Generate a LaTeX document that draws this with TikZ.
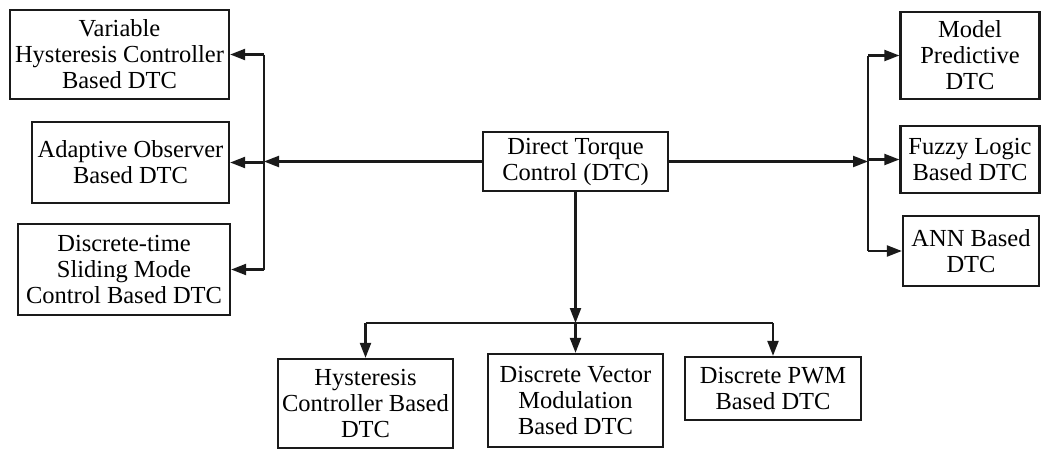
\documentclass[tikz,border=0pt]{standalone}
\usepackage{fontspec}
\setmainfont{Liberation Serif}
\usetikzlibrary{arrows.meta,positioning,calc}
\definecolor{ink}{HTML}{1A1A1A}
\tikzset{
  block/.style={rectangle,draw=ink,line width=2.3pt,fill=white,align=center,inner sep=1pt,font=\fontsize{24.5}{26}\selectfont},
  arrow/.style={-{Triangle[length=15pt,width=11pt]},line width=2.2pt,ink},
  bus/.style={line width=2.2pt,ink}
}
\begin{document}
\begin{tikzpicture}[x=1pt,y=-1pt]
    \useasboundingbox (0,0) rectangle (1046,450);
    % centre
    \node[block,minimum width=185pt,minimum height=59pt] (dtc) at (575.5,161.5) {Direct Torque\\Control (DTC)};
    % left group
    \node[block,minimum width=219pt,minimum height=89pt] (var) at (119.5,54.5) {Variable\\Hysteresis Controller\\Based DTC};
    \node[block,minimum width=197pt,minimum height=81pt] (adapt) at (130.5,162.5) {Adaptive Observer\\Based DTC};
    \node[block,minimum width=212pt,minimum height=91pt] (slide) at (124,269.5) {Discrete-time\\Sliding Mode\\Control Based DTC};
    % right group
    \node[block,minimum width=139pt,minimum height=87pt] (mpc) at (970,55.5) {Model\\Predictive\\DTC};
    \node[block,minimum width=139pt,minimum height=67pt] (fuzzy) at (970,159.5) {Fuzzy Logic\\Based DTC};
    \node[block,minimum width=136pt,minimum height=70pt] (ann) at (971,251) {ANN Based\\DTC};
    % bottom group
    \node[block,minimum width=175pt,minimum height=89pt] (hyst) at (365.5,403.5) {Hysteresis\\Controller Based\\DTC};
    \node[block,minimum width=175pt,minimum height=93pt] (dvm) at (575.5,400.5) {Discrete Vector\\Modulation\\Based DTC};
    \node[block,minimum width=176pt,minimum height=63pt] (pwm) at (773,388.5) {Discrete PWM\\Based DTC};

    \coordinate (lbus) at (264,161.5);
    \coordinate (rbus) at (868,161.5);
    \coordinate (bbus) at (575.5,323);

    % left branch
    \draw[arrow] (dtc.west) -- (lbus);
    \draw[bus] (lbus |- var.east) -- (lbus |- slide.east);
    \draw[arrow] (lbus |- var.east) -- (var.east);
    \draw[arrow] (lbus |- adapt.east) -- (adapt.east);
    \draw[arrow] (lbus |- slide.east) -- (slide.east);
    % right branch
    \draw[arrow] (dtc.east) -- (rbus);
    \draw[bus] (rbus |- mpc.west) -- (rbus |- ann.west);
    \draw[arrow] (rbus |- mpc.west) -- (mpc.west);
    \draw[arrow] (rbus |- fuzzy.west) -- (fuzzy.west);
    \draw[arrow] (rbus |- ann.west) -- (ann.west);
    % bottom branch
    \draw[arrow] (dtc.south) -- (bbus);
    \draw[bus] (hyst.north |- bbus) -- (pwm.north |- bbus);
    \draw[arrow] (hyst.north |- bbus) -- (hyst.north);
    \draw[arrow] (bbus) -- (dvm.north);
    \draw[arrow] (pwm.north |- bbus) -- (pwm.north);
\end{tikzpicture}
\end{document}
